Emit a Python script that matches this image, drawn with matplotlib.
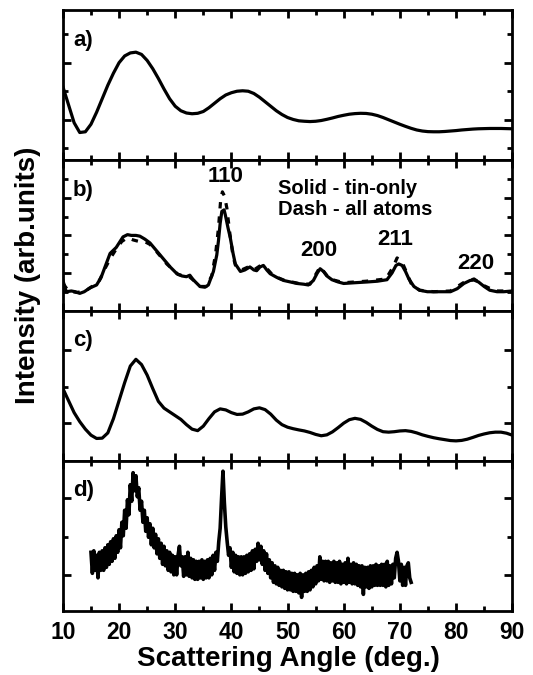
import numpy as np
import matplotlib
matplotlib.use("Agg")
import matplotlib.pyplot as plt
from matplotlib.ticker import MultipleLocator

plt.rcParams["font.family"] = ["Liberation Sans", "DejaVu Sans"]
plt.rcParams["font.weight"] = "bold"

# ---------------------------------------------------------------- data (arb. units)
# a) smooth, one value per degree
a_x = np.arange(10, 91)
a_y = [49, 37, 25, 18.5, 19, 24, 32, 41, 50, 58, 65, 69.5, 71.5, 72, 70.5, 66.5,
       61, 54.5, 47.5, 41, 36, 33, 31.5, 31, 31.3, 32.5, 35, 38, 41, 43.5, 45, 46,
       46.3, 46, 44.5, 42, 39, 36, 33, 30.5, 28.5, 27.2, 26.3, 26, 25.8, 26, 26.5,
       27.3, 28.2, 29.2, 30, 30.7, 31.1, 31.3, 31.2, 30.7, 29.8, 28.5, 27, 25.5, 24,
       22.6, 21.3, 20.2, 19.5, 19.1, 19, 19, 19.2, 19.5, 19.8, 20.2, 20.5, 20.8, 21,
       21.1, 21.2, 21.2, 21.2, 21.1, 21]

# b) solid - tin-only
b_x = [10, 10.6, 11.5, 12.2, 13.0, 13.8, 14.8, 16.0, 16.8, 17.5, 18.4, 19.5, 20.7,
       21.5, 22.2, 23.0, 23.7, 24.6, 25.5, 26.4, 27.3, 28.2, 29.1, 30.3, 31.2, 32.0,
       32.6, 33.2, 34.4, 35.3, 35.9, 36.8, 37.4, 37.7, 38.0, 38.3, 38.7, 38.9, 39.4,
       39.8, 40.3, 40.7, 41.6, 42.4, 43.3, 44.0, 44.5, 45.1, 45.7, 46.3, 46.9, 48.1,
       49.3, 50.5, 51.7, 52.9, 53.7, 54.6, 55.3, 55.8, 56.4, 57.0, 57.9, 59.0, 60.0,
       62.0, 64.2, 66.0, 67.7, 68.6, 69.3, 69.8, 70.4, 71.0, 71.6, 72.5, 73.5, 74.9,
       77.0, 79.0, 80.2, 81.4, 82.5, 83.2, 84.0, 85.0, 86.0, 87.3, 88.5, 90]
b_y = [20, 12.5, 13, 12.5, 11.4, 12.5, 15, 17, 22, 29, 38, 42, 49, 50.5, 50, 50, 49.5,
       47.5, 45, 41, 37, 33, 29, 24.5, 23, 22.5, 23.5, 20.5, 16, 15.5, 17, 26, 37,
       46.5, 58, 66, 67, 64, 55, 48.5, 38, 31, 26, 27, 29, 27, 26.5, 29, 30, 27, 24.5,
       22, 20, 19, 18, 17.5, 17, 20, 25, 27.8, 26, 23, 20.5, 19, 18, 18.5, 19, 19.5,
       20.5, 25, 30, 31, 30, 26, 21, 16, 13.5, 12.5, 12.5, 12.5, 14.5, 18, 20, 20.3,
       19, 16, 13.5, 12.5, 12.5, 13]

# b) dash - all atoms
bd_x = [10, 11, 12.5, 14, 15, 16.5, 17.5, 18.5, 19.5, 20.5, 21.5, 22.5, 23.5, 24.5,
        25.5, 26.5, 27.5, 28.5, 29.5, 30.5, 31.5, 32.5, 33.3, 34.4, 35.5, 36.5, 37.2,
        37.7, 38.1, 38.4, 38.8, 39.2, 39.7, 40.3, 40.8, 41.8, 43, 44, 45.2, 46.3, 47.5,
        49.5, 52, 54, 55.8, 57.5, 60, 64, 67.5, 68.8, 69.5, 70.3, 71.0, 72.0, 73.5, 76,
        79, 81.3, 83.2, 85, 87, 90]
bd_y = [18, 13, 12, 13, 15.5, 20, 28, 35, 41, 46, 48.5, 47, 46, 46, 44, 40, 35.5, 31,
        27.5, 24, 23, 22.5, 20, 16, 16, 23, 38, 55, 74, 79, 76, 68, 52, 36, 29, 27, 29,
        27, 30, 28, 23, 20, 18, 17.5, 29, 21, 18.5, 19.5, 21, 29, 35, 33, 27, 18, 13.5,
        12.5, 13, 18.5, 21, 16.5, 13, 13]

# c) smooth, one value per degree
c_x = np.arange(10, 91)
c_y = [48, 40, 32, 26, 21, 17, 14.8, 15, 18.5, 28, 40, 52, 63, 67.5, 64, 57, 48, 39.5,
       35, 32.5, 30, 27.5, 24, 21, 20, 23, 28, 32.5, 34.5, 33.8, 32, 30.8, 31, 32.5,
       34.5, 35.2, 34, 31, 27, 24, 22.3, 21.3, 20.5, 19.8, 18.8, 17.5, 16.6, 17.2,
       19.2, 22, 25, 27.3, 28.2, 27.5, 25.5, 23, 20.8, 19.3, 19, 19.3, 19.8, 20, 19.5,
       18.5, 17.2, 16.2, 15.3, 14.6, 14, 13.4, 13.2, 13.5, 14.3, 15.5, 16.8, 17.8,
       18.6, 19, 19, 18.3, 17]

# d) measured, every 0.25 degree from 15 to 72
d_x = np.arange(15, 72.001, 0.25)
d_y = [39, 25, 40, 27, 37, 22, 39, 27, 40, 27, 42, 29, 44, 31, 46, 33,
       48, 35, 50, 39, 54, 42, 59, 50, 67, 55, 74, 64, 84, 73, 92, 80,
       90, 76, 82, 67, 73, 59, 67, 53, 62, 49, 58, 44, 55, 42, 51, 38,
       48, 35, 45, 31, 43, 30, 40, 27, 39, 26, 37, 24, 36, 24, 37, 43,
       30, 36, 23, 36, 24, 39, 23, 35, 22, 34, 21, 33, 21, 33, 22, 34,
       21, 33, 22, 34, 22, 35, 24, 37, 27, 39, 33, 46, 55, 75, 93, 72,
       56, 46, 37, 42, 29, 39, 26, 37, 25, 36, 24, 36, 24, 36, 25, 37,
       26, 38, 27, 40, 28, 41, 33, 45, 34, 43, 31, 40, 27, 38, 25, 34,
       22, 32, 19, 30, 18, 29, 17, 27, 16, 27, 15, 26, 14, 26, 14, 25,
       13, 25, 13, 24, 12, 25, 9, 24, 13, 25, 13, 26, 14, 27, 16, 29,
       18, 30, 20, 36, 21, 33, 20, 33, 20, 33, 19, 32, 20, 33, 19, 32,
       19, 33, 18, 31, 19, 32, 18, 35, 19, 31, 18, 32, 18, 31, 17, 30,
       16, 30, 11, 29, 16, 29, 15, 30, 16, 30, 17, 31, 17, 30, 17, 31,
       17, 31, 16, 33, 17, 30, 18, 31, 22, 35, 39, 33, 20, 31, 17, 29,
       17, 30, 32, 22, 19]

peak_labels = ["110", "200", "211", "220"]
peak_pos = [(38.9, 89), (55.6, 40), (69.2, 47), (83.6, 31.5)]

# ---------------------------------------------------------------- figure
fig = plt.figure(figsize=(5.33, 6.75), dpi=100)
L, R, B, T = 0.118, 0.961, 0.095, 0.985
h = (T - B) / 4
axes = [fig.add_axes([L, T - (i + 1) * h, R - L, h]) for i in range(4)]

yt_major = [[27, 65], [25, 50, 75], [25, 74], [24, 75]]
yt_minor = [[8, 46, 84], [12.5, 37.5, 62.5, 87.5], [49], [49.5]]

for i, ax in enumerate(axes):
    ax.set_xlim(10, 90)
    ax.set_ylim(0, 100)
    ax.xaxis.set_major_locator(MultipleLocator(10))
    ax.xaxis.set_minor_locator(MultipleLocator(5))
    ax.set_yticks(yt_major[i])
    ax.set_yticks(yt_minor[i], minor=True)
    ax.tick_params(which="both", direction="in", top=True, right=True, width=2)
    ax.tick_params(which="major", length=6)
    ax.tick_params(which="minor", length=3.5)
    ax.tick_params(axis="y", labelleft=False)
    if i < 3:
        ax.tick_params(axis="x", labelbottom=False)
    for s in ax.spines.values():
        s.set_linewidth(2)
    ax.text(11.8, 87, "abcd"[i] + ")", fontsize=16, fontweight="bold", va="top")

axes[0].plot(a_x, a_y, color="black", lw=2.3)
axes[1].plot(bd_x, bd_y, color="black", lw=2.3, ls=(0, (2, 2.5)))
axes[1].plot(b_x, b_y, color="black", lw=2.3)
axes[2].plot(c_x, c_y, color="black", lw=2.3)
axes[3].plot(d_x, d_y, color="black", lw=2.6)

for lab, (px, py) in zip(peak_labels, peak_pos):
    axes[1].text(px, py, lab, fontsize=16, fontweight="bold", ha="center", va="center")
axes[1].text(48.3, 81, "Solid - tin-only", fontsize=14.5, fontweight="bold", va="center")
axes[1].text(48.3, 67, "Dash - all atoms", fontsize=14.5, fontweight="bold", va="center")

ax = axes[3]
ax.tick_params(axis="x", labelsize=16.5, pad=7)
for t in ax.get_xticklabels():
    t.set_fontweight("bold")

fig.text(0.541, 0.013, "Scattering Angle (deg.)", fontsize=20, fontweight="bold",
         ha="center", va="baseline")
fig.text(0.052, 0.592, "Intensity (arb.units)", rotation=90, fontsize=20,
         fontweight="bold", ha="center", va="center")

fig.savefig("out.png", dpi=100, facecolor="white")
